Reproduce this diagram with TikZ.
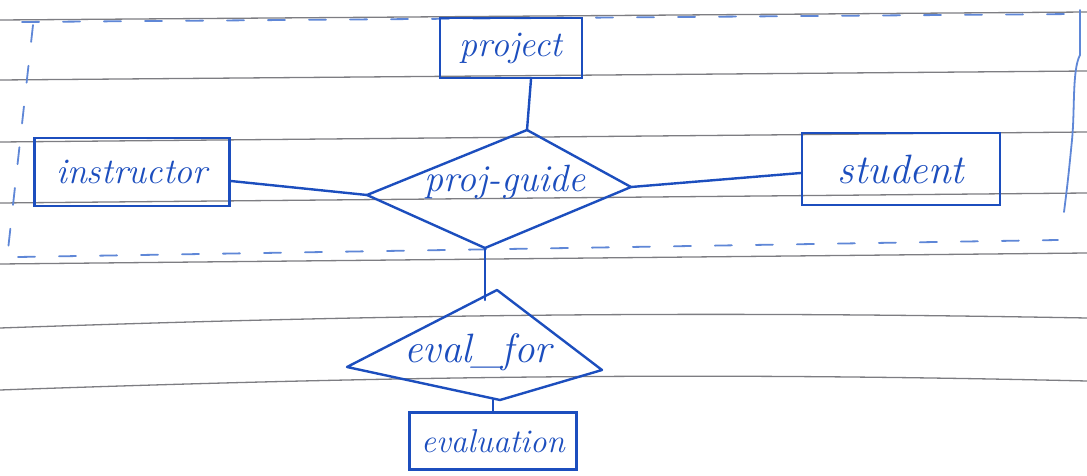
\documentclass[tikz,border=0pt]{standalone}
\usetikzlibrary{calc}
\definecolor{pen}{RGB}{28,78,190}
\definecolor{penlight}{RGB}{95,135,215}
\definecolor{ruleline}{RGB}{125,125,130}
\tikzset{
  ruled/.style={draw=ruleline, line width=1.3pt},
  penline/.style={draw=pen, line width=2.4pt, line join=round, line cap=round},
  agg/.style={draw=penlight, line width=1.8pt, dash pattern=on 17pt off 24pt, line cap=round},
  hand/.style={text=pen, font=\fontsize{36}{38}\selectfont\itshape, inner sep=0pt},
  bighand/.style={text=pen, font=\fontsize{41}{43}\selectfont\itshape, inner sep=0pt},
  entity/.style={hand, draw=pen, line width=2.4pt, rectangle},
}
\begin{document}
\begin{tikzpicture}[x=1pt,y=-1pt]
\fill[white] (0,0) rectangle (1087,476);
\useasboundingbox (0,0) rectangle (1087,476);
% ruled paper lines
\draw[ruled] (0,20) -- (1087,12);
\draw[ruled] (0,80) -- (1087,71);
\draw[ruled] (0,142) -- (1087,132);
\draw[ruled] (0,203) -- (1087,193);
\draw[ruled] (0,264) -- (1087,253);
\draw[ruled] (0,328) .. controls (400,314) and (700,311) .. (1087,318);
\draw[ruled] (0,390) .. controls (400,376) and (700,372) .. (1087,381);
% aggregation box (dashed)
\draw[agg] (22,22) -- (1075,14);
\draw[agg] (18,257) -- (1058,240);
\draw[agg] (33,25) -- (8,250);
\draw[penlight, line width=1.8pt, line cap=round] (1080,10) -- (1080,55) .. controls (1072,70) and (1075,110) .. (1072,140) .. controls (1068,180) .. (1064,212);
% entities
\node[entity, minimum width=142pt, minimum height=60pt] (project) at (511,48) {project};
\node[entity, minimum width=195pt, minimum height=68pt] (instructor) at (132,172) {instructor};
\node[entity, bighand, minimum width=198pt, minimum height=72pt] (student) at (901,169) {student};
\node[entity, font=\fontsize{33}{35}\selectfont\itshape, minimum width=167pt, minimum height=57pt] (evaluation) at (493,441) {evaluation};
% relationship proj-guide
\coordinate (pgt) at (527,130);
\coordinate (pgr) at (631,187);
\coordinate (pgb) at (485,248);
\coordinate (pgl) at (367,195);
\draw[penline] (pgt) -- (pgr) -- (pgb) -- (pgl) -- cycle;
\node[hand, font=\fontsize{38}{40}\selectfont\itshape] (projguide) at (505,182) {proj-guide};
% relationship eval_for
\coordinate (eft) at (497,290);
\coordinate (efr) at (602,370);
\coordinate (efb) at (500,400);
\coordinate (efl) at (347,367);
\coordinate (efin) at (485,300);
\draw[penline] (eft) -- (efr) -- (efb) -- (efl) -- cycle;
\node[bighand] (evalfor) at (478,352) {eval\_for};
% connectors
\draw[penline] ([xshift=20pt]project.south) -- (pgt);
\draw[penline] ([yshift=-9pt]instructor.east) -- (pgl);
\draw[penline] (pgr) -- ([yshift=-4pt]student.west);
\draw[penline] (pgb) -- (efin);
\draw[penline] (efb -| evaluation.north) -- (evaluation.north);
\end{tikzpicture}
\end{document}
